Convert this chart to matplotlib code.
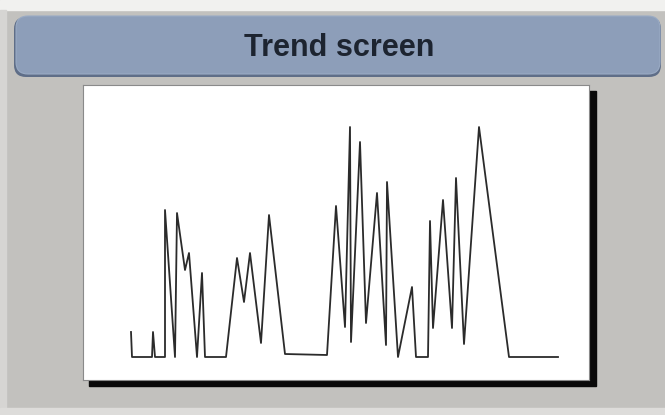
import matplotlib.pyplot as plt
from matplotlib.patches import Rectangle, FancyBboxPatch

# trend samples (time index, value)
t = [0, 1, 21, 22, 24, 34, 34, 44, 46, 54, 58, 66, 71, 74, 95, 106, 113, 119, 130, 138,
     154, 196, 205, 214, 219, 220, 229, 235, 246, 255, 256, 267, 281, 285, 297, 299,
     302, 312, 321, 325, 333, 348, 378, 427]
v = [25, 0, 0, 25, 0, 0, 147, 0, 144, 87, 104, 0, 84, 0, 0, 99, 55, 104, 14, 142,
     3, 2, 151, 30, 230, 15, 215, 34, 164, 12, 175, 0, 70, 0, 0, 136,
     29, 157, 29, 179, 13, 230, 0, 0]
title = "Trend screen"

bg = "#c2c1be"
fig = plt.figure(figsize=(6.65, 4.15), dpi=100, facecolor=bg)
inch = fig.dpi_scale_trans

# light strips round the screenshot edge
fig.patches.append(Rectangle((0, 4.05), 6.65, 0.10, transform=inch, color="#f1f1ef", zorder=0))
fig.patches.append(Rectangle((0, 0), 0.06, 4.05, transform=inch, color="#d6d5d3", zorder=0))
fig.patches.append(Rectangle((0, 0), 6.65, 0.07, transform=inch, color="#dddcda", zorder=0))

# title bar (darker rim underneath for the bevel look)
fig.patches.append(FancyBboxPatch((0.14, 3.38), 6.47, 0.60, boxstyle="round,pad=0,rounding_size=0.12",
                                  transform=inch, facecolor="#5f6e88", edgecolor="none", zorder=1))
fig.patches.append(FancyBboxPatch((0.16, 3.41), 6.44, 0.58, boxstyle="round,pad=0,rounding_size=0.12",
                                  transform=inch, facecolor="#8d9eb9", edgecolor="#9aabc4", lw=0.8, zorder=1))
fig.text(3.39, 3.67, title, transform=inch, ha="center", va="center", fontsize=22, fontweight="bold",
         color="#1d2430", family=["Liberation Sans Narrow", "Liberation Sans", "DejaVu Sans"])

# drop shadow behind the trend panel
fig.patches.append(Rectangle((0.89, 0.29), 5.07, 2.95, transform=inch, color="#0a0a0a", zorder=1))

ax = fig.add_axes([83 / 665, 35 / 415, 506 / 665, 295 / 415], zorder=2)
ax.set_facecolor("white")
ax.plot(t, v, color="#2b2b2b", lw=1.3)
ax.set_xlim(-48, 458)
ax.set_ylim(-23, 272)
ax.set_xticks([])
ax.set_yticks([])
for s in ax.spines.values():
    s.set_color("#8a8a8a")
    s.set_linewidth(0.8)

plt.savefig("out.png", dpi=100, facecolor=bg)
